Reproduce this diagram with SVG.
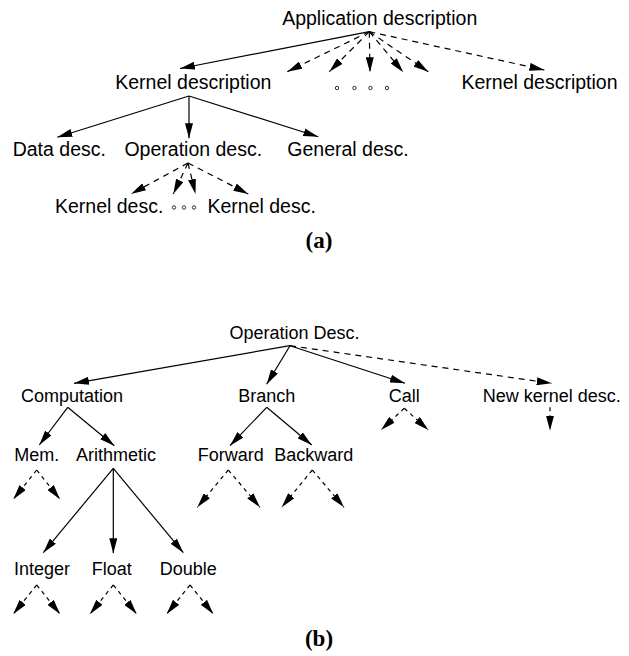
<svg xmlns="http://www.w3.org/2000/svg" width="629" height="656" viewBox="0 0 629 656">
<style>
.t{font-family:"Liberation Sans",Arial,sans-serif;fill:#000;text-anchor:middle}
.a{font-size:19.5px}
.b{font-size:18px}
.cap{font-family:"Liberation Serif","Times New Roman",serif;font-weight:bold;font-size:23px;text-anchor:middle;fill:#000}
.s{stroke:#000;stroke-width:1.2;fill:none;marker-end:url(#ah)}
.d{stroke:#000;stroke-width:1.2;fill:none;stroke-dasharray:6,5;marker-end:url(#ah)}
.ds{stroke:#000;stroke-width:1.2;fill:none;stroke-dasharray:4,4;marker-end:url(#ah)}
.dot{fill:none;stroke:#000;stroke-width:0.8}
</style>
<defs>
<marker id="ah" viewBox="0 0 15 8" refX="15" refY="4" markerWidth="15" markerHeight="8" markerUnits="userSpaceOnUse" orient="auto">
<path d="M0,0 L15,4 L0,8 z" fill="#000" stroke="none"/>
</marker>
</defs>

<g id="connectors">
<!-- part a -->
<line class="s" x1="369.3" y1="31.7" x2="180" y2="68.5"/>
<line class="d" x1="369.3" y1="31.7" x2="287.3" y2="71.7"/>
<line class="d" x1="369.3" y1="31.7" x2="329.3" y2="71.7"/>
<line class="d" x1="369.3" y1="31.7" x2="370" y2="72.3"/>
<line class="d" x1="369.3" y1="31.7" x2="403.3" y2="72.3"/>
<line class="d" x1="369.3" y1="31.7" x2="428.3" y2="71.7"/>
<line class="d" x1="369.3" y1="31.7" x2="544.4" y2="70"/>
<line class="s" x1="189" y1="96" x2="57.3" y2="137.3"/>
<line class="s" x1="189" y1="96" x2="189" y2="138.3"/>
<line class="s" x1="189" y1="96" x2="318.3" y2="136.7"/>
<line class="d" x1="188" y1="163" x2="131" y2="194"/>
<line class="d" x1="188" y1="163" x2="173.3" y2="194"/>
<line class="d" x1="188" y1="163" x2="195.5" y2="194"/>
<line class="d" x1="188" y1="163" x2="248.3" y2="194"/>
<!-- part b -->
<line class="s" x1="290" y1="345.7" x2="74" y2="383.3"/>
<line class="s" x1="290" y1="345.7" x2="266.7" y2="384.3"/>
<line class="s" x1="290" y1="345.7" x2="405" y2="383.3"/>
<line class="d" x1="290" y1="345.7" x2="551.7" y2="383.3"/>
<line class="s" x1="67.7" y1="407.3" x2="39.3" y2="445"/>
<line class="s" x1="67.7" y1="407.3" x2="114.3" y2="445.7"/>
<line class="s" x1="266.7" y1="407.3" x2="230" y2="445.7"/>
<line class="s" x1="266.7" y1="407.3" x2="311.7" y2="445"/>
<line class="ds" x1="404.3" y1="408.3" x2="381" y2="430"/>
<line class="ds" x1="404.3" y1="408.3" x2="428.3" y2="430"/>
<line class="ds" x1="550" y1="407.3" x2="550" y2="430.7"/>
<line class="ds" x1="36.7" y1="470" x2="13.3" y2="499.3"/>
<line class="ds" x1="36.7" y1="470" x2="60" y2="499.3"/>
<line class="s" x1="113.3" y1="468.3" x2="43.3" y2="552.7"/>
<line class="s" x1="113.3" y1="468.3" x2="113.3" y2="553.3"/>
<line class="s" x1="113.3" y1="468.3" x2="183.3" y2="552.7"/>
<line class="ds" x1="228.3" y1="470" x2="197.3" y2="507.3"/>
<line class="ds" x1="228.3" y1="470" x2="260" y2="507.3"/>
<line class="ds" x1="312.3" y1="470" x2="281.7" y2="507.3"/>
<line class="ds" x1="312.3" y1="470" x2="344" y2="507.3"/>
<line class="ds" x1="36.7" y1="585" x2="13.3" y2="614"/>
<line class="ds" x1="36.7" y1="585" x2="60" y2="614"/>
<line class="ds" x1="113.3" y1="585" x2="90" y2="614"/>
<line class="ds" x1="113.3" y1="585" x2="136.7" y2="614"/>
<line class="ds" x1="190" y1="585" x2="166.7" y2="614"/>
<line class="ds" x1="190" y1="585" x2="213.3" y2="614"/>
</g>

<g id="app-desc"><text class="t a" x="379.7" y="24.5">Application description</text></g>
<g id="kernel-desc-1"><text class="t a" x="193.3" y="89.3">Kernel description</text></g>
<g id="ellipsis-1">
<circle class="dot" cx="337" cy="88" r="1.7"/>
<circle class="dot" cx="354.5" cy="88" r="1.7"/>
<circle class="dot" cx="370.5" cy="88" r="1.7"/>
<circle class="dot" cx="387" cy="88" r="1.7"/>
</g>
<g id="kernel-desc-n"><text class="t a" x="539.5" y="89.3">Kernel description</text></g>
<g id="data-desc"><text class="t a" x="59.3" y="156">Data desc.</text></g>
<g id="operation-desc"><text class="t a" x="193.3" y="156">Operation desc.</text></g>
<g id="general-desc"><text class="t a" x="348" y="156">General desc.</text></g>
<g id="kdesc-1"><text class="t a" x="109.2" y="213.3">Kernel desc.</text></g>
<g id="ellipsis-2">
<circle class="dot" cx="174" cy="207.5" r="1.7"/>
<circle class="dot" cx="184" cy="207.5" r="1.7"/>
<circle class="dot" cx="194" cy="207.5" r="1.7"/>
</g>
<g id="kdesc-n"><text class="t a" x="261.7" y="213.3">Kernel desc.</text></g>
<g id="caption-a"><text class="cap" x="319" y="248">(a)</text></g>

<g id="op-desc"><text class="t b" x="294.5" y="338.5">Operation Desc.</text></g>
<g id="computation"><text class="t b" x="72" y="401.5">Computation</text></g>
<g id="branch"><text class="t b" x="266.7" y="401.5">Branch</text></g>
<g id="call"><text class="t b" x="404.3" y="401.5">Call</text></g>
<g id="new-kernel"><text class="t b" x="551.7" y="401.5">New kernel desc.</text></g>
<g id="mem"><text class="t b" x="36.7" y="461">Mem.</text></g>
<g id="arithmetic"><text class="t b" x="116" y="461">Arithmetic</text></g>
<g id="forward"><text class="t b" x="230.8" y="461">Forward</text></g>
<g id="backward"><text class="t b" x="313.8" y="461">Backward</text></g>
<g id="integer"><text class="t b" x="42" y="575">Integer</text></g>
<g id="float"><text class="t b" x="111.7" y="575">Float</text></g>
<g id="double"><text class="t b" x="188.3" y="575">Double</text></g>
<g id="caption-b"><text class="cap" x="319" y="646">(b)</text></g>
</svg>
